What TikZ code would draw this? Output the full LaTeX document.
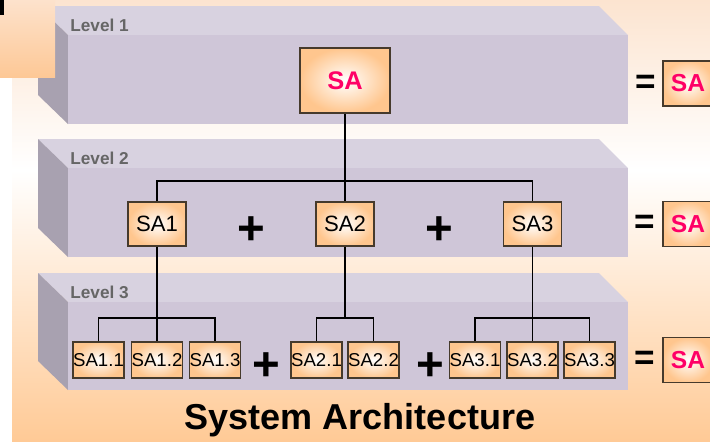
\documentclass[tikz,border=0pt]{standalone}
\usepackage{fontspec}
\setmainfont{Liberation Sans}
\definecolor{bgtop}{RGB}{252,228,208}
\definecolor{bgbot}{RGB}{255,202,150}
\definecolor{cornertop}{RGB}{253,226,204}
\definecolor{cornerbot}{RGB}{253,200,150}
\definecolor{slabtop}{RGB}{216,210,224}
\definecolor{slabfront}{RGB}{207,198,216}
\definecolor{slabside}{RGB}{168,161,176}
\definecolor{lvlgray}{RGB}{102,102,102}
\definecolor{boxline}{RGB}{70,58,44}
\definecolor{boxfill}{RGB}{255,198,142}
\definecolor{samagenta}{RGB}{255,0,102}
\tikzset{
    %Define style for boxes
    box/.style={
           rectangle,
           draw=boxline, line width=0.7pt,
           inner sep=0pt,
           shading=radial,
           inner color=white,
           outer color=boxfill},
    topbox/.style={
           box,
           minimum width=1.8cm,
           minimum height=1.3cm,
           font=\fontsize{14.5}{16}\selectfont\bfseries,
           text=samagenta},
    midbox/.style={
           box,
           minimum width=1.16cm,
           minimum height=0.88cm,
           font=\fontsize{12.6}{14}\selectfont},
    leaf/.style={
           box,
           minimum width=1.02cm,
           minimum height=0.72cm,
           font=\fontsize{10.6}{12}\selectfont},
    sumbox/.style={
           box,
           minimum width=1cm,
           minimum height=0.9cm,
           font=\fontsize{14}{16}\selectfont\bfseries,
           text=samagenta},
    % signs between the boxes
    plus/.style={font=\fontsize{27}{29}\selectfont\bfseries, inner sep=0pt},
    equal/.style={font=\fontsize{20}{22}\selectfont\bfseries, inner sep=0pt},
    lvl/.style={font=\fontsize{9.8}{11}\selectfont\bfseries, text=lvlgray, anchor=west, inner sep=0pt},
    % Define line style
    link/.style={line width=1.1pt, black}
}
\begin{document}
\begin{tikzpicture}[x=0.02cm, y=-0.02cm]
\useasboundingbox (0,0) rectangle (710,441);
\clip (0,0) rectangle (710,441);

%background
\fill[white] (0,0) rectangle (710,441);
\shade[top color=bgtop, bottom color=white] (12,0) rectangle (710,170);
\shade[top color=white, bottom color=bgbot] (12,170) rectangle (710,441);

%slabs, one per level
\foreach \t/\b/\lvlno in {6/124/1, 139/257/2, 273/390/3}{
  \fill[slabtop] (38,\t) -- (599,\t) -- (628,{\t+29}) -- (68,{\t+29}) -- cycle;
  \fill[slabside] (38,\t) -- (68,{\t+29}) -- (68,\b) -- (38,{\b-29}) -- cycle;
  \fill[slabfront] (68,{\t+29}) rectangle (628,\b);
  \node[lvl] (lvl\lvlno) at (70,{\t+19}) {Level \lvlno};
}

%corner block
\shade[top color=cornertop, bottom color=cornerbot] (0,0) rectangle (55,77);
\fill[black] (0,0) rectangle (4,15);

%level 1
\node[topbox] (sa) at (345,80.5) {SA};

%level 2
\node[midbox] (sa1) at (157,224) {SA1};
\node[midbox] (sa2) at (345,224) {SA2};
\node[midbox] (sa3) at (532.5,224) {SA3};
\node[plus] (plus21) at (251,231) {+};
\node[plus] (plus22) at (439,231) {+};

%level 3
\node[leaf] (sa11) at (98.5,360) {SA1.1};
\node[leaf] (sa12) at (157,360) {SA1.2};
\node[leaf] (sa13) at (215,360) {SA1.3};
\node[leaf] (sa21) at (316.5,360) {SA2.1};
\node[leaf] (sa22) at (373.5,360) {SA2.2};
\node[leaf] (sa31) at (475,360) {SA3.1};
\node[leaf] (sa32) at (532.5,360) {SA3.2};
\node[leaf] (sa33) at (589.5,360) {SA3.3};
\node[plus] (plus31) at (266,367) {+};
\node[plus] (plus32) at (430,367) {+};

%sums on the right
\node[equal] (eq1) at (646,84) {=};
\node[equal] (eq2) at (645,224) {=};
\node[equal] (eq3) at (645,360) {=};
\node[sumbox] (rsa1) at (688,83.5) {SA};
\node[sumbox] (rsa2) at (688,224) {SA};
\node[sumbox] (rsa3) at (688,360) {SA};

%tree lines
\coordinate (bus2) at (0,181);
\coordinate (bus3) at (0,318);
\draw[link] (sa.south) -- (sa2.north);
\draw[link] (sa1.north) -- (sa1.north |- bus2) -| (sa3.north);
\draw[link] (sa1.south) -- (sa12.north);
\draw[link] (sa11.north) -- (sa11.north |- bus3) -| (sa13.north);
\draw[link] (sa2.south) -- (sa2.south |- bus3);
\draw[link] (sa21.north) -- (sa21.north |- bus3) -| (sa22.north);
\draw[link] (sa3.south) -- (sa32.north);
\draw[link] (sa31.north) -- (sa31.north |- bus3) -| (sa33.north);

\node[font=\fontsize{20.5}{23}\selectfont\bfseries] (title) at (360,420) {System Architecture};

\end{tikzpicture}
\end{document}
